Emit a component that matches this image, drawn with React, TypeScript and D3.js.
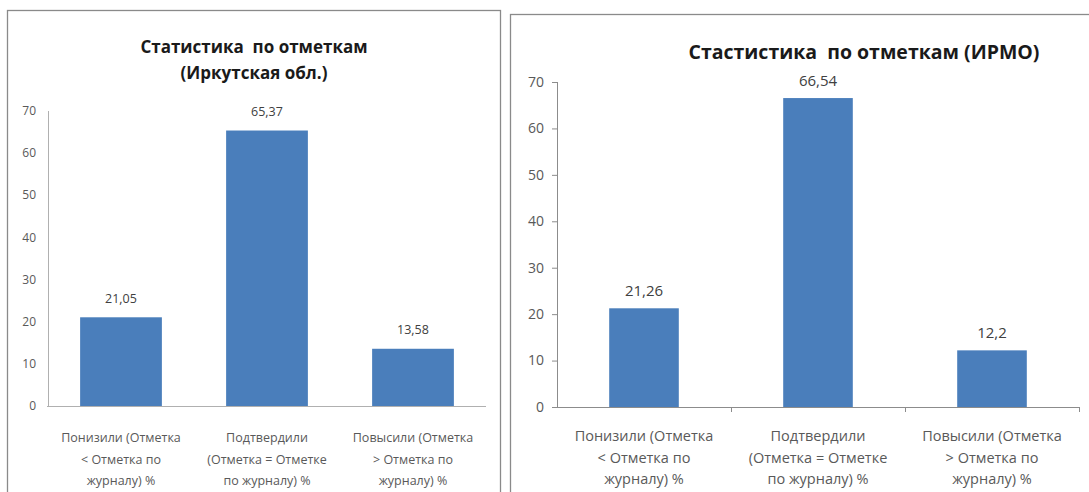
import React from "react";
import * as d3 from "d3";

const categoryLines: string[][] = [
  ["Понизили (Отметка", "< Отметка по", "журналу) %"],
  ["Подтвердили", "(Отметка = Отметке", "по журналу) %"],
  ["Повысили (Отметка", "> Отметка по", "журналу) %"],
];
const categories = ["Понизили", "Подтвердили", "Повысили"];
const regionValues = [21.05, 65.37, 13.58];
const irmoValues = [21.26, 66.54, 12.2];
const yTicks = [0, 10, 20, 30, 40, 50, 60, 70];
const leftTitle = ["Статистика\u00a0 по отметкам", "(Иркутская обл.)"];
const rightTitle = ["Стастистика\u00a0 по отметкам (ИРМО)"];

const BAR = "#4a7ebb";
const FONT = "'Open Sans', 'Noto Sans', sans-serif";
const fmt = (v: number) => String(v).replace(".", ",");

type Cfg = {
  values: number[];
  title: string[];
  box: [number, number, number, number];
  x0: number; x1: number; yTop: number; yBase: number;
  pi: number; po: number;
  titleX: number; titleY: number; titleSize: number; titleGap: number;
  tickSize: number; labelSize: number; catSize: number;
  yLabelX: number; tickLen: number; axisColor: string;
  labelGap: number; catY: number; catGap: number; catTicks: boolean;
};

function Chart({ c }: { c: Cfg }) {
  const x = d3.scaleBand<string>().domain(categories).range([c.x0, c.x1]).paddingInner(c.pi).paddingOuter(c.po);
  const y = d3.scaleLinear().domain([0, 70]).range([c.yBase, c.yTop]);
  const step = x.step();
  return (
    <g>
      <rect x={c.box[0] + 0.5} y={c.box[1] + 0.5} width={c.box[2]} height={c.box[3]} fill="#fff" stroke="#8a8a8a" strokeWidth={1.3} />
      {c.title.map((t, i) => (
        <text key={i} x={c.titleX} y={c.titleY + i * c.titleGap} textAnchor="middle" fontFamily={FONT} fontWeight="bold" fontSize={c.titleSize} fill="#1a1a1a">{t}</text>
      ))}
      <line x1={c.x0 + 0.5} x2={c.x0 + 0.5} y1={y(70)} y2={y(0)} stroke={c.axisColor} />
      <line x1={c.x0 - (c.tickLen ? c.tickLen : 1)} x2={c.x1} y1={y(0) + 0.5} y2={y(0) + 0.5} stroke={c.axisColor} />
      {yTicks.map((t) => (
        <g key={t}>
          {c.tickLen > 0 && <line x1={c.x0 - c.tickLen} x2={c.x0} y1={y(t) + 0.5} y2={y(t) + 0.5} stroke={c.axisColor} />}
          <text x={c.yLabelX} y={y(t)} dy="0.35em" textAnchor="end" fontFamily={FONT} fontSize={c.tickSize} fill="#595959">{t}</text>
        </g>
      ))}
      {c.catTicks && categories.map((k, i) => (
        <line key={k} x1={c.x0 + step * (i + 1) + 0.5} x2={c.x0 + step * (i + 1) + 0.5} y1={y(0)} y2={y(0) + 5} stroke={c.axisColor} />
      ))}
      {categories.map((k, i) => (
        <g key={k}>
          <rect x={x(k)!} y={y(c.values[i])} width={x.bandwidth()} height={y(0) - y(c.values[i])} fill={BAR} />
          <text x={x(k)! + x.bandwidth() / 2} y={y(c.values[i]) - c.labelGap} textAnchor="middle" fontFamily={FONT} fontSize={c.labelSize} fill="#404040">{fmt(c.values[i])}</text>
          {categoryLines[i].map((ln, j) => (
            <text key={j} x={x(k)! + x.bandwidth() / 2} y={c.catY + j * c.catGap} textAnchor="middle" fontFamily={FONT} fontSize={c.catSize} fill="#595959">{ln}</text>
          ))}
        </g>
      ))}
    </g>
  );
}

export default function App() {
  const left: Cfg = {
    values: regionValues, title: leftTitle, box: [7, 10, 493, 500],
    x0: 48, x1: 486, yTop: 111, yBase: 406, pi: 0.44, po: 0.22,
    titleX: 254, titleY: 53, titleSize: 17, titleGap: 26,
    tickSize: 12, labelSize: 12.5, catSize: 12.5, yLabelX: 36, tickLen: 0, axisColor: "#b0b0b0",
    labelGap: 14.5, catY: 442, catGap: 21.5, catTicks: false,
  };
  const right: Cfg = {
    values: irmoValues, title: rightTitle, box: [510, 14, 600, 500],
    x0: 557, x1: 1079, yTop: 82, yBase: 407, pi: 0.6, po: 0.3,
    titleX: 864, titleY: 59, titleSize: 19.5, titleGap: 0,
    tickSize: 14, labelSize: 15, catSize: 14.5, yLabelX: 544, tickLen: 5, axisColor: "#8c8c8c",
    labelGap: 12.5, catY: 441, catGap: 21.5, catTicks: true,
  };
  return (
    <svg width={1089} height={492} style={{ position: "absolute", left: 0, top: 0, background: "#fff" }}>
      <Chart c={left} />
      <Chart c={right} />
    </svg>
  );
}
